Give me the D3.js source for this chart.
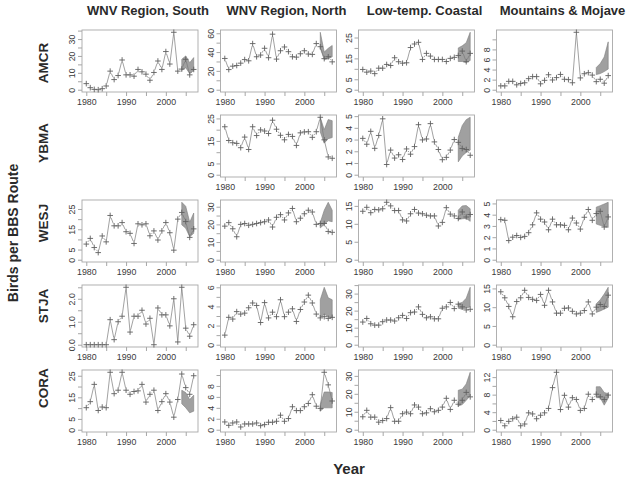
<!DOCTYPE html>
<html><head><meta charset="utf-8">
<script src="https://cdn.jsdelivr.net/npm/d3@7"></script>
<style>body{margin:0;background:#fff}svg{display:block;font-family:"Liberation Sans",Arial,sans-serif}</style>
</head><body><svg id="c" width="629" height="478"></svg>
<script>
const years = [1980,1981,1982,1983,1984,1985,1986,1987,1988,1989,1990,1991,1992,1993,1994,1995,1996,1997,1998,1999,2000,2001,2002,2003,2004,2005,2006,2007];
const bandYears = [2004,2005,2006,2007];
const regions = ["WNV Region, South","WNV Region, North","Low-temp. Coastal","Mountains & Mojave"];
const species = ["AMCR","YBMA","WESJ","STJA","CORA"];
const xTicks = [1980,1985,1990,1995,2000,2005];
const xTickLabels = [1980,1990,2000];

// series values (birds per route)
const amcrSouth = [3.6,1.2,0.2,0,0.6,2.2,11,6,8.4,17.6,8.8,8.8,8,12,10.6,9.2,5.6,10.2,17,12,22.6,15.2,34,11,12.2,18,8.8,12];
const amcrNorth = [33.2,21.4,25,25.7,28.2,32,30.7,49,35,36.8,44,34,59,32.5,41.4,45.4,40.4,35,34.6,38.2,41.4,37.9,37.5,49,45.7,33,35,29.6];
const amcrCoastal = [9.7,8.4,8.9,7.7,10.3,10.3,12.1,11.6,15.3,13.4,12.7,12.9,20.2,21.9,22.7,14.5,17.4,16.1,14.5,14.5,14.5,13.5,15,15.5,16.4,18.5,13.4,17.4];
const amcrMountains = [0.76,0.76,1.66,1.66,0.97,1.24,1.38,2.2,2.6,2.6,1.17,1.86,2.97,1.93,2.4,3.03,2.07,2.0,1.38,11.4,2.34,3.17,3.38,2.9,1.6,2.07,1.3,2.8];
const ybmaNorth = [21.3,15.2,14.2,13.9,12,16.7,11.2,21.3,17.4,19.9,19.4,18.3,24.2,20.2,17.5,15.5,17.9,17,13,18.6,19,19.1,16.6,19.1,25.5,15.5,7.9,7.3];
const ybmaCoastal = [3.1,2.6,3.7,2.25,3.35,4.77,0.87,2.1,1.42,1.7,1.3,2.2,1.75,2.4,4.27,2.97,3.05,4.36,2.8,2.15,1.28,1.48,2.1,3.0,2.76,2.24,2.15,1.66];
const wesjSouth = [7.7,10.5,6,3.5,11.7,8.8,21.8,16.7,16.7,18.3,13.8,13,8,17.7,17.2,17.7,11.8,14.2,9.7,14.2,18.3,13.3,4.7,20,23.3,18.8,11,15.2];
const wesjNorth = [19,21,17.5,13,20,20.5,19.5,20,20.5,21,21.5,22.5,18.5,24,25.5,22.5,26.5,29,21.5,23.5,26,28,27,20,20.5,20.5,16,15.5];
const wesjCoastal = [13.5,14.6,13.1,14,13.9,14.2,16,15,13.7,13.7,11.1,10.8,12.8,14,13,12.8,12.4,12.2,12.2,9.4,10.4,14.5,12.7,12.2,11.5,13.3,11.9,12.6];
const wesjMountains = [3.56,3.5,1.7,2.0,2.15,1.98,2.07,2.4,3.1,4.16,3.6,3.35,2.66,3.6,3.1,3.1,3.05,2.66,3.7,3.26,2.72,3.77,4.46,3.5,4.1,4.3,2.9,3.8];
const stjaSouth = [0,0,0,0,0,0,1.09,0.22,1.0,1.24,2.5,0.55,1.24,1.24,1.5,0.9,1.15,0,1.6,1.3,1.3,0.82,2.0,0.12,2.5,0.72,0.37,0.87];
const stjaNorth = [1.0,2.86,2.68,3.46,3.2,3.3,3.86,4.36,4.1,2.32,4.4,2.8,3.4,2.93,4.7,2.93,3.4,3.75,2.43,3.68,4.46,5.18,4.36,3.2,2.8,2.93,2.75,2.86];
const stjaCoastal = [13.3,15.4,12.3,11.5,11.5,13.5,14.5,14.5,13.9,15.8,17.2,15.4,18.8,19.2,22.2,17.8,15.8,16.4,15.2,15.2,21.4,22.2,24.8,21.2,23.8,22.2,20.4,20.8];
const stjaMountains = [14.1,12.5,10.2,7.45,11.5,12.5,14.5,12.6,12.1,11.8,13.4,10.5,14.5,11.4,8.4,8.4,9.7,9.8,8.9,8.2,8.4,9.1,11.4,8.2,10,10.7,10.2,13.2];
const coraSouth = [10.2,13,21,8.9,10.5,10.2,26.6,16.7,18.3,26.6,18.3,16.4,17.7,18,21,12.8,16.4,18.3,8.9,13,16.7,12.8,5.8,14,25.8,19.5,16.4,25];
const coraNorth = [1.42,0.8,1.23,1.42,0.5,1.05,1.05,1.05,1.23,0.74,0.93,1.36,1.36,1.54,2.65,1.54,2.04,4.2,3.5,3.5,4.2,4.8,6.4,4.3,3.9,10.5,8.2,5.25];
const coraCoastal = [7.2,10.8,7,7,4.2,5.1,6.2,12.3,4.7,4.7,8.9,9.8,8.9,13.8,12.6,8.9,9.4,11.7,10,10.8,12.6,17.5,11.3,16.4,14.2,16.4,20.8,18.3];
const coraMountains = [2.1,0.9,1.9,2.5,2.85,0.9,1.3,3.85,3.6,2.5,3.3,3.85,4.85,9.6,13.1,4.6,7.85,5.15,7.3,6.9,4.4,4.85,8.1,6.9,8.1,7.5,6.9,7.9];

// prediction bands 2004-2007 (lower / upper)
const amcrSouthLo = [11.5,13,9.5,11.5],  amcrSouthHi = [18,20,16,19];
const amcrNorthLo = [44,32,33,35],       amcrNorthHi = [61,40,44,47];
const amcrCoastalLo = [13.5,13.5,13,14], amcrCoastalHi = [20,21,22.5,27.5];
const amcrMountainsLo = [3.0,3.2,3.6,4.1], amcrMountainsHi = [4.4,5.2,6.5,9.5];
const ybmaNorthLo = [19,14,16,16.5],     ybmaNorthHi = [25.5,20,24.5,24];
const ybmaCoastalLo = [1.1,1.6,1.9,2.1], ybmaCoastalHi = [3.2,4.2,4.7,4.9];
const wesjSouthLo = [17.2,15.5,11.3,13], wesjSouthHi = [28.3,26.3,18.5,23];
const wesjNorthLo = [18,20,22,21.5],     wesjNorthHi = [21,28,32.5,28];
const wesjCoastalLo = [11.2,11.4,11.5,10.7], wesjCoastalHi = [13.8,15,15.1,14.2];
const wesjMountainsLo = [3.17,3.05,2.95,2.87], wesjMountainsHi = [4.67,4.8,4.95,5.1];
const stjaNorthLo = [2.8,3.2,2.9,2.8],   stjaNorthHi = [4.7,6.0,4.9,4.7];
const stjaCoastalLo = [21.4,20.8,21.5,22.2], stjaCoastalHi = [24.2,24.8,27.3,33.7];
const stjaMountainsLo = [8.6,9.0,9.5,10], stjaMountainsHi = [10.9,12,13.5,15.3];
const coraSouthLo = [12,10.2,7.8,8.6],   coraSouthHi = [18.3,17.2,14,16];
const coraNorthLo = [3.4,4,4,4],         coraNorthHi = [4.6,6.9,6.9,6.8];
const coraCoastalLo = [13.2,14,16.4,18.9], coraCoastalHi = [22,22.6,25.5,32];
const coraMountainsLo = [7.3,7.3,5.6,7.2], coraMountainsHi = [9.8,9.8,8.5,8.2];

// y tick values and labelled subset
const t0to35by5 = [0,5,10,15,20,25,30,35], lab0to30by10 = [0,10,20,30], lab0515_25 = [0,5,15,25];

const panels = [
  {row:0,col:0,v:amcrSouth,lo:amcrSouthLo,hi:amcrSouthHi,yt:t0to35by5,yl:lab0to30by10},
  {row:0,col:1,v:amcrNorth,lo:amcrNorthLo,hi:amcrNorthHi,yt:[0,10,20,30,40,50,60],yl:[0,20,40,60]},
  {row:0,col:2,v:amcrCoastal,lo:amcrCoastalLo,hi:amcrCoastalHi,yt:t0to35by5,yl:lab0515_25},
  {row:0,col:3,v:amcrMountains,lo:amcrMountainsLo,hi:amcrMountainsHi,yt:[0,2,4,6,8,10,12],yl:[0,2,4,6,8]},
  {row:1,col:1,v:ybmaNorth,lo:ybmaNorthLo,hi:ybmaNorthHi,yt:t0to35by5,yl:lab0515_25},
  {row:1,col:2,v:ybmaCoastal,lo:ybmaCoastalLo,hi:ybmaCoastalHi,yt:[0,1,2,3,4,5],yl:[0,1,2,3,4,5]},
  {row:2,col:0,v:wesjSouth,lo:wesjSouthLo,hi:wesjSouthHi,yt:t0to35by5,yl:lab0515_25},
  {row:2,col:1,v:wesjNorth,lo:wesjNorthLo,hi:wesjNorthHi,yt:t0to35by5,yl:lab0to30by10},
  {row:2,col:2,v:wesjCoastal,lo:wesjCoastalLo,hi:wesjCoastalHi,yt:[0,5,10,15],yl:[0,5,10,15]},
  {row:2,col:3,v:wesjMountains,lo:wesjMountainsLo,hi:wesjMountainsHi,yt:[0,1,2,3,4,5],yl:[0,1,2,3,4,5]},
  {row:3,col:0,v:stjaSouth,lo:null,hi:null,yt:[0,0.5,1,1.5,2,2.5],yl:[0,1,2],fmt:1},
  {row:3,col:1,v:stjaNorth,lo:stjaNorthLo,hi:stjaNorthHi,yt:[0,1,2,3,4,5,6],yl:[0,2,4,6]},
  {row:3,col:2,v:stjaCoastal,lo:stjaCoastalLo,hi:stjaCoastalHi,yt:t0to35by5,yl:lab0to30by10},
  {row:3,col:3,v:stjaMountains,lo:stjaMountainsLo,hi:stjaMountainsHi,yt:[0,5,10,15],yl:[0,5,10,15]},
  {row:4,col:0,v:coraSouth,lo:coraSouthLo,hi:coraSouthHi,yt:t0to35by5,yl:lab0515_25},
  {row:4,col:1,v:coraNorth,lo:coraNorthLo,hi:coraNorthHi,yt:[0,2,4,6,8,10],yl:[0,2,4,6,8]},
  {row:4,col:2,v:coraCoastal,lo:coraCoastalLo,hi:coraCoastalHi,yt:t0to35by5,yl:lab0to30by10},
  {row:4,col:3,v:coraMountains,lo:coraMountainsLo,hi:coraMountainsHi,yt:[0,2,4,6,8,10,12],yl:[0,4,8,12]}
];

const svg = d3.select("#c");
const colLeft = [82, 220.5, 358.5, 496.5];
const rowTop = [30, 115, 200, 285, 370];
const W = 116, H = 62;
const rowLabelY = [63, 143, 223, 306, 388];

// column titles
regions.forEach((r,i)=>{
  svg.append("text").attr("x", colLeft[i]+W/2+8).attr("y", 15)
    .attr("text-anchor","middle").attr("font-size",13).attr("font-weight","bold").attr("fill","#2a2a2a").text(r);
});
// row labels
species.forEach((s,i)=>{
  svg.append("text").attr("transform",`translate(48,${rowLabelY[i]}) rotate(-90)`)
    .attr("text-anchor","middle").attr("font-size",13.5).attr("font-weight","bold").attr("fill","#2a2a2a").text(s);
});
svg.append("text").attr("transform","translate(18,233) rotate(-90)")
  .attr("text-anchor","middle").attr("font-size",14).attr("font-weight","bold").attr("fill","#2a2a2a").text("Birds per BBS Route");
svg.append("text").attr("x",349).attr("y",474).attr("text-anchor","middle")
  .attr("font-size",15).attr("font-weight","bold").attr("fill","#2a2a2a").text("Year");

panels.forEach(p=>{
  const L = colLeft[p.col], T = rowTop[p.row];
  const x = d3.scaleLinear().domain([1980-1.08, 2007+1.08]).range([L, L+W]);
  const ymax = d3.max(p.v.concat(p.hi||[]));
  const y = d3.scaleLinear().domain([-0.04*ymax, 1.04*ymax]).range([T+H, T]);
  const g = svg.append("g");

  // axes
  const xa = g.append("g").attr("transform",`translate(0,${T+H})`)
    .call(d3.axisBottom(x).tickValues(xTicks).tickSize(4).tickPadding(3)
      .tickFormat(d => xTickLabels.includes(d) ? d : ""));
  xa.select(".domain").remove();
  xa.selectAll("line").attr("stroke","#808080").attr("stroke-width",0.7);
  xa.selectAll("text").attr("font-size",8.8).attr("fill","#3a3a3a").attr("font-family","Liberation Sans, Arial, sans-serif");

  const yt = p.yt.filter(t => t >= y.domain()[0] && t <= y.domain()[1]);
  const ya = g.append("g").attr("transform",`translate(${L},0)`)
    .call(d3.axisLeft(y).tickValues(yt).tickSize(4)
      .tickFormat(d => p.yl.includes(d) ? (p.fmt ? d.toFixed(1) : d) : ""));
  ya.select(".domain").remove();
  ya.selectAll("line").attr("stroke","#808080").attr("stroke-width",0.7);
  ya.selectAll("text").attr("x",null).attr("dy",null).attr("text-anchor","middle")
    .attr("transform","translate(-7,0) rotate(-90)")
    .attr("font-size",8.8).attr("fill","#3a3a3a").attr("font-family","Liberation Sans, Arial, sans-serif");

  // frame
  g.append("rect").attr("x",L).attr("y",T).attr("width",W).attr("height",H)
    .attr("fill","none").attr("stroke","#a8a8a8").attr("stroke-width",0.9);

  // band
  if (p.lo) {
    const area = d3.area().x((d,i)=>x(bandYears[i])).y0((d,i)=>y(p.lo[i])).y1((d,i)=>y(p.hi[i]));
    g.append("path").attr("d", area(p.lo)).attr("fill","#a0a0a0").attr("stroke","#7e7e7e").attr("stroke-width",0.6);
  }

  // connecting line with gaps at points (type "b")
  const pts = years.map((yr,i)=>[x(yr), y(p.v[i])]);
  const gap = 2.6;
  const segs = [];
  for (let i=0;i<pts.length-1;i++){
    const [x1,y1]=pts[i],[x2,y2]=pts[i+1];
    const len = Math.hypot(x2-x1,y2-y1);
    if (len <= 2*gap) continue;
    const ux=(x2-x1)/len, uy=(y2-y1)/len;
    segs.push(`M${x1+ux*gap},${y1+uy*gap}L${x2-ux*gap},${y2-uy*gap}`);
  }
  g.append("path").attr("d",segs.join("")).attr("fill","none").attr("stroke","#7a7a7a").attr("stroke-width",0.7);

  // plus markers
  g.selectAll(null).data(pts).enter().append("path")
    .attr("transform",d=>`translate(${d[0]},${d[1]})`)
    .attr("d","M-2.8,0H2.8M0,-2.8V2.8").attr("stroke","#606060").attr("stroke-width",0.9);
});
</script>
</body></html>
